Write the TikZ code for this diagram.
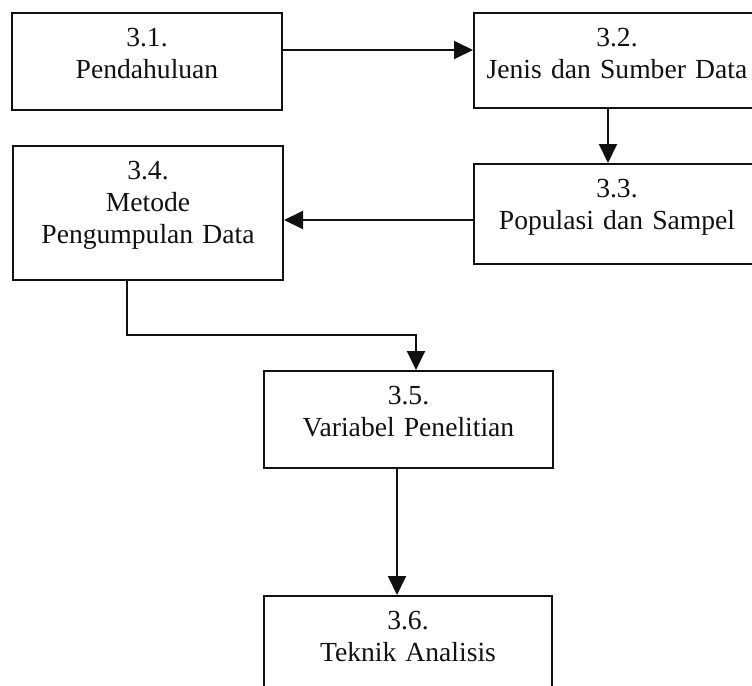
\documentclass[tikz,border=0pt]{standalone}
\usepackage{fontspec}
\setmainfont{Liberation Serif}
\usetikzlibrary{arrows.meta}
\definecolor{ink}{HTML}{111111}
\tikzset{
  stepbox/.style={draw=ink,line width=1pt,inner sep=0pt,align=center,anchor=north west,
    text height=16.5pt,text=ink,font=\fontsize{13.8}{16}\selectfont},
  arrow/.style={-{Triangle[length=9.5pt,width=9pt]},line width=1pt,draw=ink}
}
\begin{document}
\begin{tikzpicture}[x=0.5pt,y=-0.5pt]
  \useasboundingbox (0,0) rectangle (752,686);

  \node[stepbox,text width=135pt,text depth=32pt] (pend) at (11,12) {3.1.\\Pendahuluan};
  \node[stepbox,text width=143pt,text depth=31pt] (jenis) at (473,12) {3.2.\\Jenis dan Sumber Data};
  \node[stepbox,text width=143pt,text depth=33.5pt] (populasi) at (473,163) {3.3.\\Populasi dan Sampel};
  \node[stepbox,text width=135pt,text depth=50.5pt] (metode) at (12,145) {3.4.\\Metode\\Pengumpulan Data};
  \node[stepbox,text width=144.5pt,text depth=32pt] (variabel) at (263,370) {3.5.\\Variabel Penelitian};
  \node[stepbox,text width=144pt,text depth=40pt] (teknik) at (263,595) {3.6.\\Teknik Analisis};

  \draw[arrow] ([yshift=-19pt]pend.north east) -- ([yshift=-19pt]jenis.north west);
  \draw[arrow] ([xshift=67.5pt]jenis.south west) -- ([xshift=67.5pt]populasi.north west);
  \draw[arrow] ([yshift=-28.5pt]populasi.north west) -- ([yshift=-28.5pt]populasi.north west -| metode.east);
  \draw[arrow] ([xshift=57.5pt]metode.south west) -- ++(0,-27pt) -| ([xshift=76.5pt]variabel.north west);
  \draw[arrow] ([xshift=67pt]variabel.south west) -- ([xshift=67pt]teknik.north west);
\end{tikzpicture}
\end{document}
